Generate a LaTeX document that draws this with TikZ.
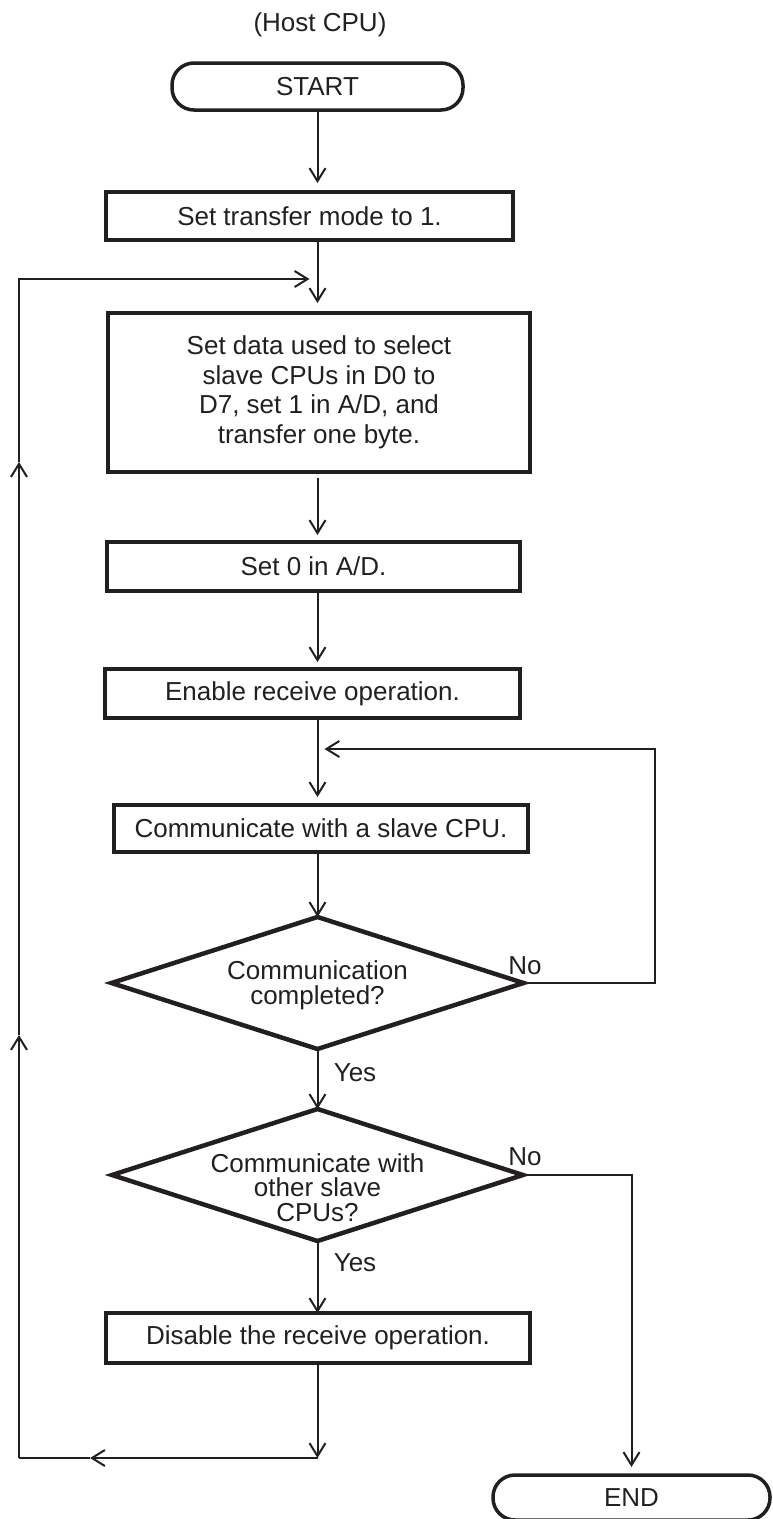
\documentclass[tikz,border=0pt]{standalone}
\usepackage{fontspec}
\setmainfont{Liberation Sans}
\usetikzlibrary{arrows.meta,shapes.geometric}
\definecolor{ink}{HTML}{231F20}
\begin{document}
\begin{tikzpicture}[x=1pt,y=-1pt,
  font=\fontsize{26}{29.5}\selectfont,
  box/.style={draw=ink, line width=4pt, rectangle, inner sep=0pt, outer sep=0pt, text=ink, align=center},
  term/.style={draw=ink, line width=3.5pt, rectangle, rounded corners=22pt, inner sep=0pt, outer sep=0pt, text=ink},
  dec/.style={draw=ink, line width=4.5pt, diamond, inner sep=0pt, outer sep=0pt},
  dectext/.style={text=ink, align=center, inner sep=0pt, font=\fontsize{26}{24.8}\selectfont},
  conn/.style={draw=ink, line width=2pt},
  arr/.style={conn, -{Straight Barb[length=13pt,width=16pt,line width=2pt]}},
  lab/.style={text=ink, inner sep=0pt}]
\useasboundingbox (0,0) rectangle (773,1519);

% nodes
\node[lab] (host) at (320,25) {(Host CPU)};
\node[term, minimum width=291pt, minimum height=47pt] (start) at (317.5,86.5) {START};
\node[box, minimum width=407pt, minimum height=48pt] (b1) at (309.5,216) {Set transfer mode to 1.};
\node[box, minimum width=422pt, minimum height=159pt] (b2) at (319,392.5)
  {Set data used to select\\slave CPUs in D0 to\\D7, set 1 in A/D, and\\transfer one byte.};
\node[box, minimum width=413pt, minimum height=49pt] (b3) at (313.5,566.5) {Set 0 in A/D.};
\node[box, minimum width=415pt, minimum height=49pt] (b4) at (312.5,693.5) {Enable receive operation.};
\node[box, minimum width=414pt, minimum height=47pt] (b5) at (321,828.5) {Communicate with a slave CPU.};
\node[dec, minimum width=412pt, minimum height=132pt] (d1) at (317.5,983) {};
\node[dectext] (d1t) at (317.5,985.5) {Communication\\completed?};
\node[dec, minimum width=411pt, minimum height=132pt] (d2) at (317.5,1175) {};
\node[dectext] (d2t) at (317.5,1187.5) {Communicate with\\other slave\\CPUs?};
\node[box, minimum width=424pt, minimum height=50pt] (b6) at (318,1338) {Disable the receive operation.};
\node[term, minimum width=277pt, minimum height=45pt] (end) at (631.5,1497.5) {END};

\node[lab] (yes1) at (355,1073) {Yes};
\node[lab] (yes2) at (355,1263) {Yes};
\node[lab] (no1) at (525,966) {No};
\node[lab] (no2) at (525,1157) {No};

% helper coordinates
\coordinate (j1) at (317.5,279);
\coordinate (lt) at (19,279);
\coordinate (lu1) at (19,462);
\coordinate (lu2) at (19,1035);
\coordinate (lb) at (19,1458);
\coordinate (bm) at (90,1458);
\coordinate (bj) at (317.5,1458);
\coordinate (r1) at (655,749);
\coordinate (r1j) at (317.5,749);

% main flow
\draw[arr] (start.south) -- ([yshift=9pt]b1.north -| start);
\draw[arr] (b1.south -| start) -- ([yshift=10pt]b2.north -| start);
\draw[arr] ([yshift=-6pt]b2.south -| start) -- ([yshift=7pt]b3.north -| start);
\draw[arr] (b3.south -| start) -- ([yshift=7pt]b4.north -| start);
\draw[arr] (b4.south -| start) -- ([yshift=8pt]b5.north -| start);
\draw[arr] (b5.south -| d1) -- (d1.north);
\draw[arr] (d1.south) -- (d2.north);
\draw[arr] (d2.south) -- (b6.north -| d2);
\draw[arr] (b6.south -| start) -- (bj);

% No branch of first decision
\draw[arr] (d1.east) -| (r1) -- ([xshift=7pt]r1j);

% No branch of second decision
\draw[arr] (d2.east) -| ([yshift=8pt]end.north);

% outer loop
\draw[arr] (bj) -- (bm);
\draw[conn] (bm) -- (lb);
\draw[arr] (lb) -- (lu2);
\draw[arr] (lu2) -- (lu1);
\draw[arr] (lu1) -- (lt) -- ([xshift=-8pt]j1);
\end{tikzpicture}
\end{document}
